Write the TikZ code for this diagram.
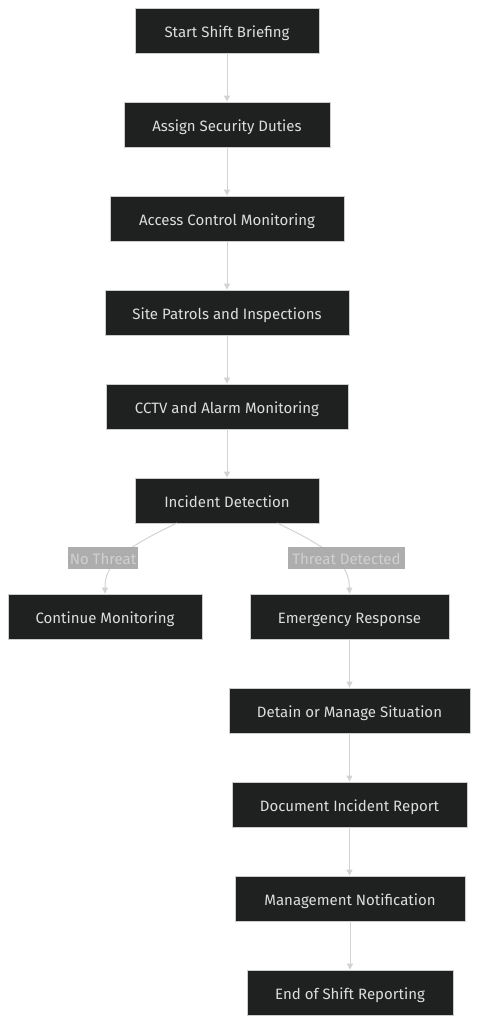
\documentclass[tikz,border=0pt]{standalone}
\usepackage{fontspec}
\setmainfont{Fira Sans}
\usetikzlibrary{arrows.meta}
\definecolor{nodefill}{HTML}{1F2020}
\definecolor{nodeborder}{HTML}{CCCCCC}
\definecolor{nodetext}{HTML}{DDDDDD}
\definecolor{edgecol}{HTML}{D3D3D3}
\definecolor{lblfill}{HTML}{A9A9A9}
\definecolor{lbltext}{HTML}{D0D0D0}
\tikzset{
  x=1pt,y=-1pt,
  box/.style={draw=nodeborder, line width=0.8pt, fill=nodefill, text=nodetext,
    font=\fontsize{15}{17}\selectfont, inner sep=0pt, anchor=center,
    text height=13.4pt, text depth=0pt},
  flow/.style={draw=edgecol, line width=1pt, -{Triangle[width=6pt,length=6pt]}},
  lbl/.style={fill=lblfill, fill opacity=0.95, text opacity=1, text=lbltext,
    font=\fontsize{15}{17}\selectfont, inner sep=0pt, minimum height=22pt,
    text height=12.6pt, text depth=0pt}
}
\newcommand{\bx}[6]{% name, x1, y1, x2, y2, text
  \node[box, minimum width={#4-#2}, minimum height={#5-#3}] (#1) at ({(#2+#4)/2},{(#3+#5)/2}) {#6};}
\begin{document}
\begin{tikzpicture}
\useasboundingbox (0,0) rectangle (479,1024);
\bx{n1}{135}{8}{319}{53}{Start Shift Briefing}
\bx{n2}{124}{102}{330}{147}{Assign Security Duties}
\bx{n3}{110}{196}{344}{241}{Access Control Monitoring}
\bx{n4}{105}{290}{349}{335}{Site Patrols and Inspections}
\bx{n5}{106}{384}{348}{429}{CCTV and Alarm Monitoring}
\bx{n6}{135}{478}{319}{523}{Incident Detection}
\bx{n7}{8}{594}{202}{639}{Continue Monitoring}
\bx{n8}{250}{594}{449}{639}{Emergency Response}
\bx{n9}{229}{688}{470}{733}{Detain or Manage Situation}
\bx{n10}{232}{782}{467}{827}{Document Incident Report}
\bx{n11}{235}{876}{465}{921}{Management Notification}
\bx{n12}{247}{970}{453}{1015}{End of Shift Reporting}

\draw[flow] (n1.south) -- (n1.south |- n2.north);
\draw[flow] (n2.south) -- (n2.south |- n3.north);
\draw[flow] (n3.south) -- (n3.south |- n4.north);
\draw[flow] (n4.south) -- (n4.south |- n5.north);
\draw[flow] (n5.south) -- (n5.south |- n6.north);
\draw[flow] (n8.south) -- (n8.south |- n9.north);
\draw[flow] (n9.south) -- (n9.south |- n10.north);
\draw[flow] (n10.south) -- (n10.south |- n11.north);
\draw[flow] (n11.south) -- (n11.south |- n12.north);

\coordinate (l1) at (177,523);
\coordinate (r1) at (277,523);
\draw[flow] (l1) .. controls (120,550) and (105,565) .. (n7.north);
\draw[flow] (r1) .. controls (334,550) and (349,565) .. (n8.north);

\node[lbl, minimum width=70pt] (t1) at (103,558) {No Threat};
\node[lbl, minimum width=117pt] (t2) at (346.5,558) {Threat Detected};
\end{tikzpicture}
\end{document}
